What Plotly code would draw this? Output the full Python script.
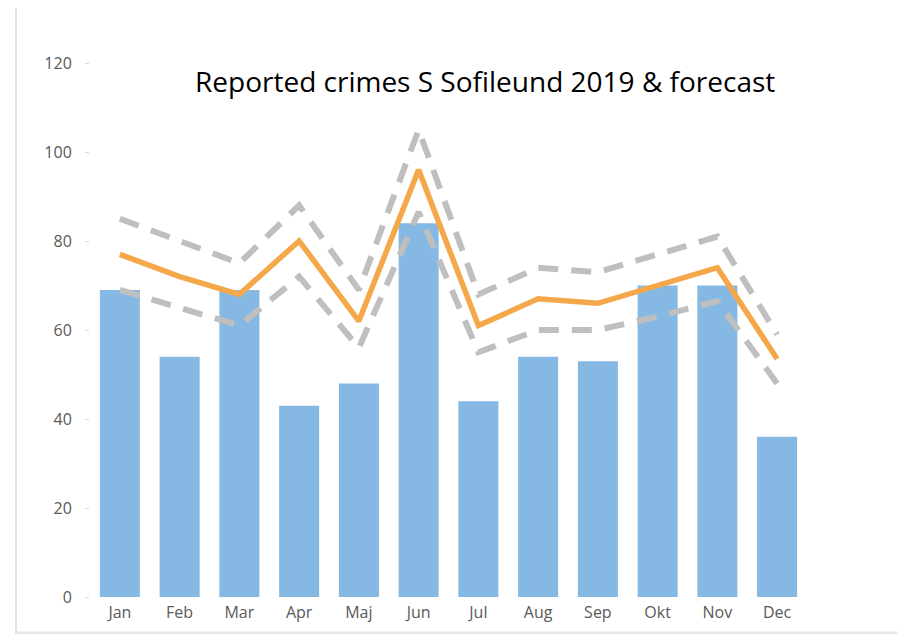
import plotly.graph_objects as go

months = ["Jan", "Feb", "Mar", "Apr", "Maj", "Jun", "Jul", "Aug", "Sep", "Okt", "Nov", "Dec"]
reported = [69, 54, 69, 43, 48, 84, 44, 54, 53, 70, 70, 36]
forecast = [77, 72, 68, 80, 62, 96, 61, 67, 66, 70, 74, 53.5]
upper = [85, 80, 75, 88, 69, 105, 68, 74, 73, 77, 81, 59]
lower = [69, 65, 61, 72, 56, 86.5, 55, 60, 60, 63, 66.5, 48]
y_ticks = [0, 20, 40, 60, 80, 100, 120]

fig = go.Figure()
fig.add_trace(go.Bar(x=months, y=reported, marker=dict(color="#85B9E3", line=dict(width=0)),
                     name="Reported"))
fig.add_trace(go.Scatter(x=months, y=upper, mode="lines",
                         line=dict(color="#BFBFBF", width=6, dash="20px,13px"), name="Upper"))
fig.add_trace(go.Scatter(x=months, y=lower, mode="lines",
                         line=dict(color="#BFBFBF", width=6, dash="20px,13px"), name="Lower"))
fig.add_trace(go.Scatter(x=months, y=forecast, mode="lines",
                         line=dict(color="#F5A84A", width=5.5), name="Forecast"))

fig.update_layout(
    width=906, height=626,
    margin=dict(l=82, r=107, t=55, b=37),
    paper_bgcolor="white", plot_bgcolor="white",
    showlegend=False,
    bargap=0.33,
    font=dict(family="Open Sans, DejaVu Sans, sans-serif", color="#595959", size=16),
    xaxis=dict(range=[-0.5, 11.5], showgrid=False, zeroline=False, showline=False,
               ticks="", ticklabelstandoff=4, tickfont=dict(size=16, color="#595959")),
    yaxis=dict(range=[0, 120], tickvals=y_ticks, showgrid=False, zeroline=False,
               showline=False, ticks="outside", ticklen=4, tickcolor="#D9D9D9",
               ticklabelstandoff=10, tickfont=dict(size=16, color="#595959")),
    annotations=[dict(text="Reported crimes S Sofileund 2019 & forecast",
                      xref="paper", yref="paper", x=0.551, y=0.966,
                      xanchor="center", yanchor="middle", showarrow=False,
                      font=dict(family="Open Sans, sans-serif", size=28, color="#000000"))],
    shapes=[
        dict(type="line", xref="paper", yref="paper", x0=-74/717, x1=-74/717, y0=-37/534, y1=1.2,
             line=dict(color="#E3E3E3", width=2)),
        dict(type="line", xref="paper", yref="paper", x0=-74/717, x1=807/717, y0=-36/534, y1=-36/534,
             line=dict(color="#E8E8E8", width=3)),
    ],
)

fig.write_html("out.html")
